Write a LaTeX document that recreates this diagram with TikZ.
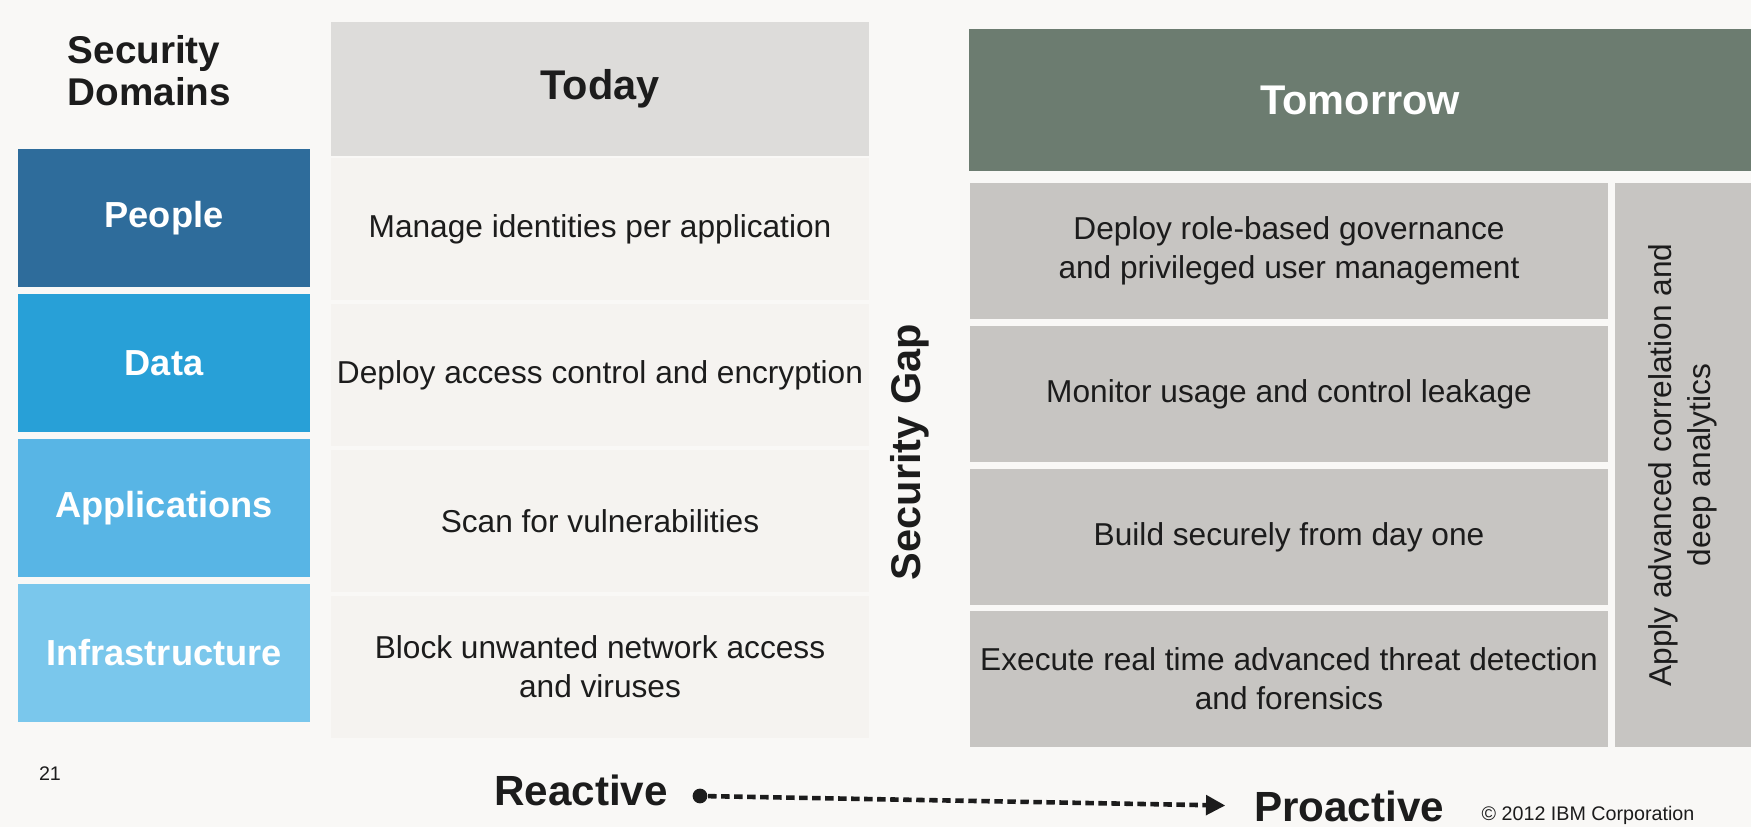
\documentclass[tikz,border=0pt]{standalone}
\usepackage{fontspec}
\setmainfont{Liberation Sans}
\usetikzlibrary{positioning, arrows.meta}
\definecolor{pagebg}{RGB}{249,248,246}
\definecolor{inkc}{RGB}{28,28,28}
\definecolor{peoplec}{RGB}{46,108,155}
\definecolor{datac}{RGB}{40,160,215}
\definecolor{appsc}{RGB}{88,181,229}
\definecolor{infrac}{RGB}{122,199,236}
\definecolor{todayhead}{RGB}{221,220,218}
\definecolor{todayrow}{RGB}{245,243,240}
\definecolor{tomhead}{RGB}{108,124,112}
\definecolor{tomrow}{RGB}{199,197,194}

\begin{document}
\begin{tikzpicture}[x=0.01cm, y=-0.01cm, text=inkc,
    domainbox/.style={fill=#1, text=white, inner sep=0pt,
      minimum width=2.92cm, minimum height=1.38cm,
      font=\fontsize{10.3}{12}\selectfont\bfseries},
    todaybox/.style={fill=todayrow, inner sep=0pt, align=center,
      minimum width=5.37cm, minimum height=1.42cm,
      font=\fontsize{9}{11}\selectfont},
    tombox/.style={fill=tomrow, inner sep=0pt, align=center,
      minimum width=6.38cm, minimum height=1.35cm,
      font=\fontsize{9}{11}\selectfont},
    headtext/.style={font=\fontsize{11.8}{13}\selectfont\bfseries},
    endlabel/.style={inner sep=0pt, font=\fontsize{12}{14}\selectfont\bfseries},
    smalltext/.style={inner sep=0pt, font=\fontsize{5.6}{7}\selectfont}]
    % page
    \fill[pagebg] (0,0) rectangle (1751,827);
    \useasboundingbox (0,0) rectangle (1751,827);

    % security domains
    \node[anchor=west, align=left, inner sep=0pt,
      font=\fontsize{11}{12}\selectfont\bfseries] (domains) at (67,71) {Security\\Domains};
    \node[domainbox=peoplec] (people) at (164,218) {People};
    \node[domainbox=datac] (data) at (164,363) {Data};
    \node[domainbox=appsc] (apps) at (164,508) {Applications};
    \node[domainbox=infrac] (infra) at (164,653) {Infrastructure};
    \node[smalltext] (pagenum) at (50,774) {21};

    % today
    \node[fill=todayhead, minimum width=5.37cm, minimum height=1.34cm,
      headtext] (today) at (600,89) {Today};
    \node[todaybox] (t1) at (600,229) {Manage identities per application};
    \node[todaybox] (t2) at (600,375) {Deploy access control and encryption};
    \node[todaybox] (t3) at (600,521) {Scan for vulnerabilities};
    \node[todaybox] (t4) at (600,667) {Block unwanted network access\\and viruses};

    \node[rotate=90, headtext] (gap) at (910,452) {Security Gap};

    % tomorrow
    \node[fill=tomhead, text=white, minimum width=7.81cm, minimum height=1.42cm,
      headtext] (tomorrow) at (1360,100) {Tomorrow};
    \node[tombox] (m1) at (1289,251) {Deploy role-based governance\\and privileged user management};
    \node[tombox] (m2) at (1289,394) {Monitor usage and control leakage};
    \node[tombox] (m3) at (1289,537) {Build securely from day one};
    \node[tombox] (m4) at (1289,679) {Execute real time advanced threat detection\\and forensics};
    \node[fill=tomrow, rotate=90, inner sep=0pt, align=center,
      minimum width=5.63cm, minimum height=1.36cm,
      font=\fontsize{9}{11}\selectfont] (analytics) at (1683,465)
      {Apply advanced correlation and\\deep analytics};

    % reactive to proactive
    \node[endlabel] (reactive) at (581,790) {Reactive};
    \node[circle, fill=inkc, inner sep=0pt, minimum size=4.2pt] (dot) at (700,796) {};
    \node[endlabel] (proactive) at (1349,806) {Proactive};
    \draw[inkc, line width=1.3pt, dash pattern=on 2.4pt off 1.3pt, shorten >=0.28cm,
      -{Triangle[length=5.5pt, width=5.5pt]}] (dot) -- (proactive.west);
    \node[smalltext] (ibm) at (1588,815) {\textcopyright{} 2012 IBM Corporation};
\end{tikzpicture}
\end{document}
